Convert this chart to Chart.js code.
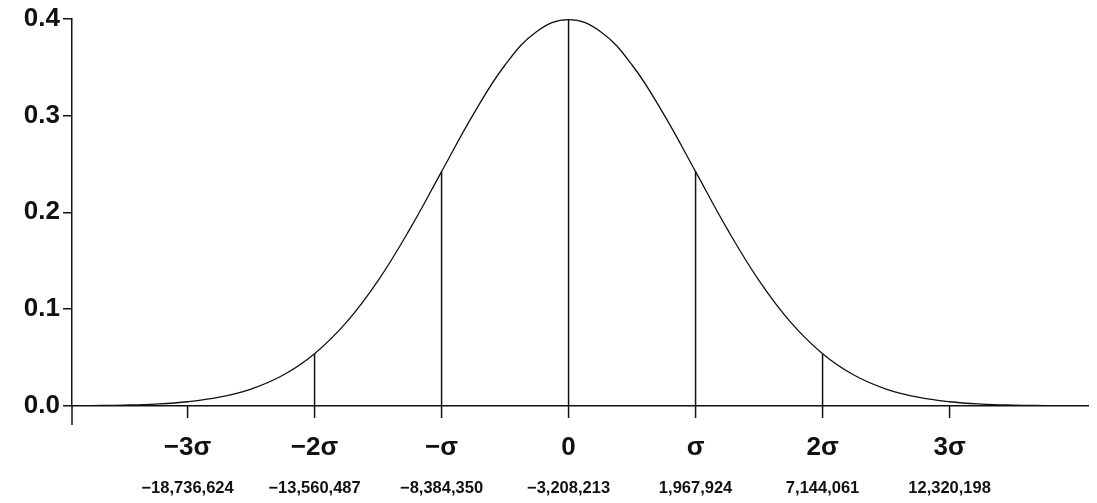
<!DOCTYPE html>
<html><head><meta charset="utf-8">
<script src="https://cdn.jsdelivr.net/npm/chart.js@4"></script>
<style>html,body{margin:0;padding:0;background:#fff}#w{width:1097px;height:503px}</style>
</head><body><div id="w"><canvas id="c"></canvas></div>
<script>
const xs = [-3.9,-3.75,-3.5,-3.25,-3,-2.75,-2.5,-2.25,-2,-1.75,-1.5,-1.25,-1,-0.75,-0.5,-0.25,0,0.25,0.5,0.75,1,1.25,1.5,1.75,2,2.25,2.5,2.75,3,3.25,3.5,3.75,3.9];
const ys = [0.0002,0.0004,0.0009,0.0020,0.0044,0.0091,0.0175,0.0317,0.0540,0.0863,0.1295,0.1826,0.2420,0.3011,0.3521,0.3867,0.3989,0.3867,0.3521,0.3011,0.2420,0.1826,0.1295,0.0863,0.0540,0.0317,0.0175,0.0091,0.0044,0.0020,0.0009,0.0004,0.0002];
const sigmaTicks = [-3,-2,-1,0,1,2,3];
const sigmaLabels = ["−3σ","−2σ","−σ","0","σ","2σ","3σ"];
const valueLabels = ["−18,736,624","−13,560,487","−8,384,350","−3,208,213","1,967,924","7,144,061","12,320,198"];
const dropLines = [-2,-1,0,1,2];
const dropHeights = [0.054,0.242,0.3989,0.242,0.054];
const F = "'Liberation Sans', Arial, sans-serif";
const deco = {id:'deco', afterDraw(ch){
  const c=ch.ctx, x=ch.scales.x, y=ch.scales.y, y0=y.getPixelForValue(0);
  c.save(); c.strokeStyle='#111'; c.lineWidth=1.5;
  dropLines.forEach((v,i)=>{const px=x.getPixelForValue(v);c.beginPath();c.moveTo(px,y0);c.lineTo(px,y.getPixelForValue(dropHeights[i]));c.stroke();});
  c.beginPath();c.moveTo(x.left,y0);c.lineTo(x.left,y0+19);c.stroke();
  c.fillStyle='#111'; c.textAlign='center'; c.textBaseline='middle';
  sigmaTicks.forEach((v,i)=>{const px=x.getPixelForValue(v);
    c.beginPath();c.moveTo(px,y0);c.lineTo(px,y0+12);c.stroke();
    c.font='bold 26px '+F; c.fillText(sigmaLabels[i],px,y0+42);
    c.font='bold 16.5px '+F; c.fillText(valueLabels[i],px,y0+82);});
  c.restore();}};
new Chart(document.getElementById('c'),{type:'line',
 data:{datasets:[{data:xs.map((v,i)=>({x:v,y:ys[i]})),borderColor:'#111',borderWidth:1.3,pointRadius:0,tension:0.4,fill:false}]},
 options:{responsive:true,maintainAspectRatio:false,animation:false,
  layout:{padding:{top:15,right:9,left:0,bottom:0}},
  plugins:{legend:{display:false},tooltip:{enabled:false}},
  scales:{
   x:{type:'linear',min:-3.91,max:4.09,grid:{display:false},ticks:{display:false},border:{display:true,color:'#111',width:1.5},afterFit(s){s.height=97;}},
   y:{min:0,max:0.4,ticks:{stepSize:0.1,color:'#111',font:{family:F,size:26,weight:'bold'},padding:3,callback:v=>v.toFixed(1)},
      grid:{drawOnChartArea:false,tickLength:9,color:'#111',lineWidth:1.5},border:{display:true,color:'#111',width:1.5},afterFit(s){s.width=72;}}
  }},plugins:[deco]});
</script></body></html>
